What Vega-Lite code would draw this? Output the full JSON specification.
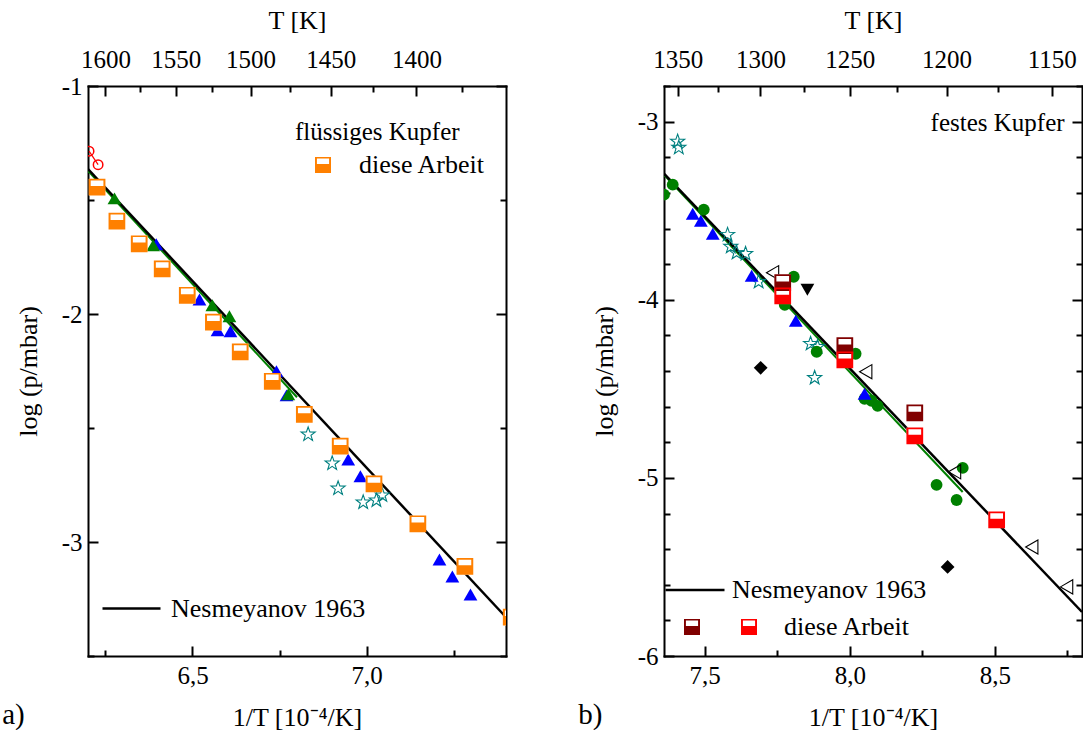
{
  "$schema": "https://vega.github.io/schema/vega-lite/v6.json",
  "padding": {"left": 2, "top": 7, "right": 0, "bottom": 0},
  "background": "#FFFFFF",
  "datasets": {
    "a_nesmeyanov": [
      {"x": 6.2, "y": -1.364, "quelle": "Nesmeyanov 1963"},
      {"x": 7.4, "y": -3.33, "quelle": "Nesmeyanov 1963"}
    ],
    "a_gruen_linie": [
      {"x": 6.2, "y": -1.372},
      {"x": 6.8, "y": -2.365}
    ],
    "a_rot_kreis": [
      {"x": 6.203, "y": -1.286},
      {"x": 6.229, "y": -1.345}
    ],
    "a_gruen_dreieck": [
      {"x": 6.276, "y": -1.493},
      {"x": 6.387, "y": -1.699},
      {"x": 6.557, "y": -1.962},
      {"x": 6.606, "y": -2.01},
      {"x": 6.775, "y": -2.352}
    ],
    "a_blau_dreieck": [
      {"x": 6.396, "y": -1.694},
      {"x": 6.52, "y": -1.936},
      {"x": 6.572, "y": -2.071},
      {"x": 6.609, "y": -2.076},
      {"x": 6.741, "y": -2.251},
      {"x": 6.77, "y": -2.357},
      {"x": 6.947, "y": -2.638},
      {"x": 6.982, "y": -2.712},
      {"x": 7.209, "y": -3.077},
      {"x": 7.246, "y": -3.151},
      {"x": 7.298, "y": -3.23}
    ],
    "a_sterne": [
      {"x": 6.832, "y": -2.528},
      {"x": 6.901, "y": -2.655},
      {"x": 6.918, "y": -2.765},
      {"x": 6.99, "y": -2.826},
      {"x": 7.028, "y": -2.817},
      {"x": 7.045, "y": -2.795}
    ],
    "a_diese_arbeit": [
      {"x": 6.226, "y": -1.444, "quelle": "diese Arbeit"},
      {"x": 6.283, "y": -1.593, "quelle": "diese Arbeit"},
      {"x": 6.347, "y": -1.692, "quelle": "diese Arbeit"},
      {"x": 6.413, "y": -1.802, "quelle": "diese Arbeit"},
      {"x": 6.485, "y": -1.918, "quelle": "diese Arbeit"},
      {"x": 6.56, "y": -2.036, "quelle": "diese Arbeit"},
      {"x": 6.637, "y": -2.166, "quelle": "diese Arbeit"},
      {"x": 6.729, "y": -2.295, "quelle": "diese Arbeit"},
      {"x": 6.821, "y": -2.44, "quelle": "diese Arbeit"},
      {"x": 6.924, "y": -2.58, "quelle": "diese Arbeit"},
      {"x": 7.021, "y": -2.745, "quelle": "diese Arbeit"},
      {"x": 7.147, "y": -2.92, "quelle": "diese Arbeit"},
      {"x": 7.282, "y": -3.107, "quelle": "diese Arbeit"},
      {"x": 7.415, "y": -3.33, "quelle": "diese Arbeit"}
    ],
    "b_nesmeyanov": [
      {"x": 7.36, "y": -3.292, "quelle": "Nesmeyanov 1963"},
      {"x": 8.8, "y": -5.753, "quelle": "Nesmeyanov 1963"}
    ],
    "b_gruen_linie": [
      {"x": 7.36, "y": -3.299},
      {"x": 8.389, "y": -5.079}
    ],
    "b_sterne": [
      {"x": 7.407, "y": -3.112},
      {"x": 7.411, "y": -3.146},
      {"x": 7.579, "y": -3.635},
      {"x": 7.59, "y": -3.702},
      {"x": 7.61, "y": -3.736},
      {"x": 7.641, "y": -3.742},
      {"x": 7.686, "y": -3.899},
      {"x": 7.865, "y": -4.247},
      {"x": 7.889, "y": -4.264},
      {"x": 7.879, "y": -4.438}
    ],
    "b_gruen_kreis": [
      {"x": 7.36, "y": -3.41},
      {"x": 7.39, "y": -3.354},
      {"x": 7.497, "y": -3.494},
      {"x": 7.807, "y": -3.871},
      {"x": 7.776, "y": -4.028},
      {"x": 7.886, "y": -4.292},
      {"x": 8.02, "y": -4.303},
      {"x": 8.051, "y": -4.556},
      {"x": 8.075, "y": -4.567},
      {"x": 8.096, "y": -4.596},
      {"x": 8.389, "y": -4.944},
      {"x": 8.299, "y": -5.039},
      {"x": 8.368, "y": -5.124}
    ],
    "b_blau_dreieck": [
      {"x": 7.459, "y": -3.517},
      {"x": 7.487, "y": -3.556},
      {"x": 7.528, "y": -3.629},
      {"x": 7.662, "y": -3.865},
      {"x": 7.814, "y": -4.118},
      {"x": 8.051, "y": -4.528}
    ],
    "b_offen_dreieck": [
      {"x": 7.734, "y": -3.848},
      {"x": 8.055, "y": -4.404},
      {"x": 8.361, "y": -4.966},
      {"x": 8.627, "y": -5.388},
      {"x": 8.747, "y": -5.612}
    ],
    "b_schwarz_dreieck": [
      {"x": 7.854, "y": -3.944}
    ],
    "b_raute": [
      {"x": 7.693, "y": -4.382},
      {"x": 8.337, "y": -5.5}
    ],
    "b_diese_arbeit": [
      {"x": 7.769, "y": -3.904, "serie": "Serie A"},
      {"x": 7.983, "y": -4.258, "serie": "Serie A"},
      {"x": 8.224, "y": -4.635, "serie": "Serie A"},
      {"x": 7.769, "y": -3.978, "serie": "Serie B"},
      {"x": 7.983, "y": -4.337, "serie": "Serie B"},
      {"x": 8.224, "y": -4.764, "serie": "Serie B"},
      {"x": 8.506, "y": -5.236, "serie": "Serie B"}
    ],
    "b_beschriftung": [
      {"text": "festes Kupfer"}
    ]
  },
  "hconcat": [
    {
      "width": 418,
      "height": 570,
      "title": {"text": "a)", "orient": "bottom", "anchor": "start", "frame": "bounds", "offset": -29, "dx": -13, "fontSize": 29, "fontWeight": "normal", "color": "#000000", "font": "Liberation Serif"},
      "encoding": {
        "x": {"field": "x", "type": "quantitative", "scale": {"domain": [6.2, 7.4], "nice": false, "zero": false}, "axis": null},
        "y": {"field": "y", "type": "quantitative", "scale": {"domain": [-3.5, -1], "nice": false, "zero": false}, "axis": null}
      },
      "resolve": {"axis": {"x": "independent", "y": "independent"}},
      "layer": [
        {
          "data": {"name": "a_gruen_linie"},
          "mark": {"type": "line", "color": "#008000", "strokeWidth": 2, "clip": true},
          "encoding": {
            "x": {"field": "x", "type": "quantitative", "scale": {"domain": [6.2, 7.4], "nice": false, "zero": false},
                  "axis": {"orient": "bottom", "values": [6.5, 7.0], "labelExpr": "replace(format(datum.value, '.1f'), '.', ',')", "title": "1/T [10⁻⁴/K]", "tickSize": -10, "labelPadding": 17, "titlePadding": 16}},
            "y": {"field": "y", "type": "quantitative", "scale": {"domain": [-3.5, -1], "nice": false, "zero": false},
                  "axis": {"orient": "left", "values": [-1, -2, -3], "labelExpr": "replace(format(datum.value, 'd'), '−', '-')", "title": "log (p/mbar)", "tickSize": -10, "labelPadding": 16, "titlePadding": 20}}
          }
        },
        {
          "data": {"name": "a_nesmeyanov"},
          "mark": {"type": "line", "strokeWidth": 2.5, "clip": true},
          "encoding": {
            "x": {"field": "x", "type": "quantitative", "scale": {"domain": [6.2, 7.4], "nice": false, "zero": false},
                  "axis": {"orient": "bottom", "values": [6.25, 6.75, 7.25], "labels": false, "title": null, "tickSize": -6, "domain": false}},
            "y": {"field": "y", "type": "quantitative", "scale": {"domain": [-3.5, -1], "nice": false, "zero": false},
                  "axis": {"orient": "left", "values": [-1.5, -2.5, -3.5], "labels": false, "title": null, "tickSize": -6, "domain": false}},
            "stroke": {"field": "quelle", "type": "nominal", "scale": {"domain": ["Nesmeyanov 1963"], "range": ["#000000"]},
                       "legend": {"orient": "none", "legendX": 13, "legendY": 492, "title": null, "symbolType": "stroke", "symbolSize": 3364, "symbolStrokeWidth": 2.5, "labelOffset": 9, "labelFontSize": 26, "labelLimit": 400}}
          }
        },
        {
          "data": {"name": "a_rot_kreis"},
          "mark": {"type": "line", "color": "#FF0000", "strokeWidth": 1.2, "clip": true},
          "encoding": {}
        },
        {
          "data": {"name": "a_rot_kreis"},
          "mark": {"type": "point", "shape": "circle", "filled": false, "color": "#FF0000", "size": 90, "strokeWidth": 1.5, "opacity": 1, "clip": true}
        },
        {
          "data": {"name": "a_blau_dreieck"},
          "mark": {"type": "point", "shape": "triangle-up", "filled": true, "color": "#0000FF", "size": 190, "opacity": 1, "clip": true},
          "encoding": {
            "x": {"field": "x", "type": "quantitative", "scale": {"domain": [6.2, 7.4], "nice": false, "zero": false},
                  "axis": {"orient": "top", "values": [6.25, 6.451613, 6.666667, 6.896552, 7.142857], "labelExpr": "format(10000 / datum.value, '.0f')", "title": "T [K]", "tickSize": -10, "labelPadding": 24, "titlePadding": 14}},
            "y": {"field": "y", "type": "quantitative", "scale": {"domain": [-3.5, -1], "nice": false, "zero": false},
                  "axis": {"orient": "right", "values": [-1, -2, -3], "labels": false, "title": null, "tickSize": -10}}
          }
        },
        {
          "data": {"name": "a_gruen_dreieck"},
          "mark": {"type": "point", "shape": "triangle-up", "filled": true, "color": "#008000", "size": 190, "opacity": 1, "clip": true},
          "encoding": {
            "x": {"field": "x", "type": "quantitative", "scale": {"domain": [6.2, 7.4], "nice": false, "zero": false},
                  "axis": {"orient": "top", "values": [6.349206, 6.557377, 6.779661, 7.017544, 7.272727], "labels": false, "title": null, "tickSize": -6, "domain": false}},
            "y": {"field": "y", "type": "quantitative", "scale": {"domain": [-3.5, -1], "nice": false, "zero": false},
                  "axis": {"orient": "right", "values": [-1.5, -2.5, -3.5], "labels": false, "title": null, "tickSize": -6, "domain": false}}
          }
        },
        {
          "data": {"name": "a_sterne"},
          "mark": {"type": "point", "shape": "M0,-1L0.235,-0.324L0.951,-0.309L0.38,0.124L0.588,0.809L0,0.4L-0.588,0.809L-0.38,0.124L-0.951,-0.309L-0.235,-0.324Z", "filled": false, "color": "#008080", "size": 220, "strokeWidth": 1.1, "opacity": 1, "clip": true}
        },
        {
          "data": {"name": "a_diese_arbeit"},
          "mark": {"type": "point", "shape": "square", "filled": true, "color": "#FFFFFF", "size": 270, "opacity": 1, "clip": true}
        },
        {
          "data": {"name": "a_diese_arbeit"},
          "mark": {"type": "point", "shape": "M-1,-1H1V1H-1ZM-0.76,-0.8V-0.14H0.76V-0.8Z", "filled": true, "size": 280, "opacity": 1, "clip": true},
          "encoding": {
            "fill": {"field": "quelle", "type": "nominal", "scale": {"domain": ["diese Arbeit"], "range": ["#FF8000"]},
                     "legend": {"orient": "none", "legendX": 207, "legendY": 34, "title": "flüssiges Kupfer", "titleFontSize": 25, "titlePadding": 7, "titleLimit": 400, "symbolType": "M-1,-1H1V1H-1ZM-0.76,-0.8V-0.14H0.76V-0.8Z", "symbolSize": 256, "symbolOffset": 15, "labelOffset": 23, "labelFontSize": 26, "labelLimit": 400}}
          }
        }
      ]
    },
    {
      "width": 418,
      "height": 570,
      "title": {"text": "b)", "orient": "bottom", "anchor": "start", "frame": "bounds", "offset": -29, "dx": -13, "fontSize": 29, "fontWeight": "normal", "color": "#000000", "font": "Liberation Serif"},
      "resolve": {"axis": {"x": "independent", "y": "independent"}},
      "layer": [
        {
          "data": {"name": "b_gruen_linie"},
          "mark": {"type": "line", "color": "#008000", "strokeWidth": 2, "clip": true},
          "encoding": {
            "x": {"field": "x", "type": "quantitative", "scale": {"domain": [7.36, 8.8], "nice": false, "zero": false},
                  "axis": {"orient": "bottom", "values": [7.5, 8.0, 8.5], "labelExpr": "replace(format(datum.value, '.1f'), '.', ',')", "title": "1/T [10⁻⁴/K]", "tickSize": -10, "labelPadding": 17, "titlePadding": 16}},
            "y": {"field": "y", "type": "quantitative", "scale": {"domain": [-6, -2.8], "nice": false, "zero": false},
                  "axis": {"orient": "left", "values": [-3, -4, -5, -6], "labelExpr": "replace(format(datum.value, 'd'), '−', '-')", "title": "log (p/mbar)", "tickSize": -10, "labelPadding": 16, "titlePadding": 20}}
          }
        },
        {
          "data": {"name": "b_nesmeyanov"},
          "mark": {"type": "line", "strokeWidth": 2.5, "clip": true},
          "encoding": {
            "x": {"field": "x", "type": "quantitative", "scale": {"domain": [7.36, 8.8], "nice": false, "zero": false},
                  "axis": {"orient": "bottom", "values": [7.75, 8.25, 8.75], "labels": false, "title": null, "tickSize": -6, "domain": false}},
            "y": {"field": "y", "type": "quantitative", "scale": {"domain": [-6, -2.8], "nice": false, "zero": false},
                  "axis": {"orient": "left", "values": [-2.8, -3.2, -3.4, -3.6, -3.8, -4.2, -4.4, -4.6, -4.8, -5.2, -5.4, -5.6, -5.8], "labels": false, "title": null, "tickSize": -6, "domain": false}},
            "stroke": {"field": "quelle", "type": "nominal", "scale": {"domain": ["Nesmeyanov 1963"], "range": ["#000000"]},
                       "legend": {"orient": "none", "legendX": 0, "legendY": 473, "title": null, "symbolType": "stroke", "symbolSize": 3481, "symbolStrokeWidth": 2.5, "labelOffset": 6, "labelFontSize": 26, "labelLimit": 400}}
          }
        },
        {
          "data": {"name": "b_sterne"},
          "mark": {"type": "point", "shape": "M0,-1L0.235,-0.324L0.951,-0.309L0.38,0.124L0.588,0.809L0,0.4L-0.588,0.809L-0.38,0.124L-0.951,-0.309L-0.235,-0.324Z", "filled": false, "color": "#008080", "size": 220, "strokeWidth": 1.1, "opacity": 1, "clip": true},
          "encoding": {
            "x": {"field": "x", "type": "quantitative", "scale": {"domain": [7.36, 8.8], "nice": false, "zero": false}, "axis": null},
            "y": {"field": "y", "type": "quantitative", "scale": {"domain": [-6, -2.8], "nice": false, "zero": false}, "axis": null}
          }
        },
        {
          "data": {"name": "b_gruen_kreis"},
          "mark": {"type": "point", "shape": "circle", "filled": true, "color": "#008000", "size": 140, "opacity": 1, "clip": true},
          "encoding": {
            "x": {"field": "x", "type": "quantitative", "scale": {"domain": [7.36, 8.8], "nice": false, "zero": false},
                  "axis": {"orient": "top", "values": [7.407407, 7.692308, 8.0, 8.333333, 8.695652], "labelExpr": "format(10000 / datum.value, '.0f')", "title": "T [K]", "tickSize": -10, "labelPadding": 24, "titlePadding": 14}},
            "y": {"field": "y", "type": "quantitative", "scale": {"domain": [-6, -2.8], "nice": false, "zero": false},
                  "axis": {"orient": "right", "values": [-3, -4, -5, -6], "labels": false, "title": null, "tickSize": -10}}
          }
        },
        {
          "data": {"name": "b_blau_dreieck"},
          "mark": {"type": "point", "shape": "triangle-up", "filled": true, "color": "#0000FF", "size": 190, "opacity": 1, "clip": true},
          "encoding": {
            "x": {"field": "x", "type": "quantitative", "scale": {"domain": [7.36, 8.8], "nice": false, "zero": false},
                  "axis": {"orient": "top", "values": [7.54717, 7.843137, 8.163265, 8.510638], "labels": false, "title": null, "tickSize": -6, "domain": false}},
            "y": {"field": "y", "type": "quantitative", "scale": {"domain": [-6, -2.8], "nice": false, "zero": false},
                  "axis": {"orient": "right", "values": [-2.8, -3.2, -3.4, -3.6, -3.8, -4.2, -4.4, -4.6, -4.8, -5.2, -5.4, -5.6, -5.8], "labels": false, "title": null, "tickSize": -6, "domain": false}}
          }
        },
        {
          "data": {"name": "b_offen_dreieck"},
          "mark": {"type": "point", "shape": "triangle-left", "filled": false, "color": "#000000", "size": 200, "strokeWidth": 1.1, "opacity": 1, "clip": true},
          "encoding": {
            "x": {"field": "x", "type": "quantitative", "scale": {"domain": [7.36, 8.8], "nice": false, "zero": false}, "axis": null},
            "y": {"field": "y", "type": "quantitative", "scale": {"domain": [-6, -2.8], "nice": false, "zero": false}, "axis": null}
          }
        },
        {
          "data": {"name": "b_schwarz_dreieck"},
          "mark": {"type": "point", "shape": "triangle-down", "filled": true, "color": "#000000", "size": 190, "opacity": 1, "clip": true},
          "encoding": {
            "x": {"field": "x", "type": "quantitative", "scale": {"domain": [7.36, 8.8], "nice": false, "zero": false}, "axis": null},
            "y": {"field": "y", "type": "quantitative", "scale": {"domain": [-6, -2.8], "nice": false, "zero": false}, "axis": null}
          }
        },
        {
          "data": {"name": "b_raute"},
          "mark": {"type": "point", "shape": "diamond", "filled": true, "color": "#000000", "size": 190, "opacity": 1, "clip": true},
          "encoding": {
            "x": {"field": "x", "type": "quantitative", "scale": {"domain": [7.36, 8.8], "nice": false, "zero": false}, "axis": null},
            "y": {"field": "y", "type": "quantitative", "scale": {"domain": [-6, -2.8], "nice": false, "zero": false}, "axis": null}
          }
        },
        {
          "data": {"name": "b_diese_arbeit"},
          "mark": {"type": "point", "shape": "square", "filled": true, "color": "#FFFFFF", "size": 270, "opacity": 1, "clip": true},
          "encoding": {
            "x": {"field": "x", "type": "quantitative", "scale": {"domain": [7.36, 8.8], "nice": false, "zero": false}, "axis": null},
            "y": {"field": "y", "type": "quantitative", "scale": {"domain": [-6, -2.8], "nice": false, "zero": false}, "axis": null}
          }
        },
        {
          "data": {"name": "b_diese_arbeit"},
          "mark": {"type": "point", "shape": "M-1,-1H1V1H-1ZM-0.76,-0.8V-0.14H0.76V-0.8Z", "filled": true, "size": 280, "opacity": 1, "clip": true},
          "encoding": {
            "x": {"field": "x", "type": "quantitative", "scale": {"domain": [7.36, 8.8], "nice": false, "zero": false}, "axis": null},
            "y": {"field": "y", "type": "quantitative", "scale": {"domain": [-6, -2.8], "nice": false, "zero": false}, "axis": null},
            "fill": {"field": "serie", "type": "nominal", "scale": {"domain": ["Serie A", "Serie B"], "range": ["#800000", "#FF0000"]},
                     "legend": {"orient": "none", "legendX": 15, "legendY": 528, "title": null, "direction": "horizontal", "columns": 2, "gridAlign": "none", "columnPadding": 9, "symbolType": "M-1,-1H1V1H-1ZM-0.76,-0.8V-0.14H0.76V-0.8Z", "symbolSize": 256, "labelOffset": 22, "labelFontSize": 26, "labelLimit": 400, "labelExpr": "datum.value == 'Serie B' ? 'diese Arbeit' : ''"}}
          }
        },
        {
          "data": {"name": "b_beschriftung"},
          "mark": {"type": "text", "align": "right", "baseline": "middle", "fontSize": 25, "font": "Liberation Serif", "color": "#000000"},
          "encoding": {
            "x": {"datum": 8.74, "type": "quantitative", "scale": {"domain": [7.36, 8.8], "nice": false, "zero": false}, "axis": null},
            "y": {"datum": -3.006, "type": "quantitative", "scale": {"domain": [-6, -2.8], "nice": false, "zero": false}, "axis": null},
            "text": {"field": "text", "type": "nominal"}
          }
        }
      ]
    }
  ],
  "spacing": 71,
  "resolve": {
    "scale": {"x": "independent", "y": "independent", "fill": "independent", "stroke": "independent"},
    "legend": {"fill": "independent", "stroke": "independent"}
  },
  "config": {
    "font": "Liberation Serif",
    "view": {"stroke": null},
    "mark": {"opacity": 1},
    "axis": {
      "grid": false,
      "domainColor": "#000000",
      "domainWidth": 2,
      "domainCap": "square",
      "tickColor": "#000000",
      "tickWidth": 2,
      "labelColor": "#000000",
      "labelFont": "Liberation Serif",
      "labelFontSize": 25,
      "labelFlush": false,
      "labelOverlap": false,
      "titleFont": "Liberation Serif",
      "titleFontSize": 26,
      "titleFontWeight": "normal",
      "titleColor": "#000000"
    },
    "legend": {
      "labelFont": "Liberation Serif",
      "labelFontSize": 26,
      "labelColor": "#000000",
      "titleFont": "Liberation Serif",
      "titleFontSize": 25,
      "titleFontWeight": "normal",
      "titleColor": "#000000",
      "padding": 0
    }
  }
}
